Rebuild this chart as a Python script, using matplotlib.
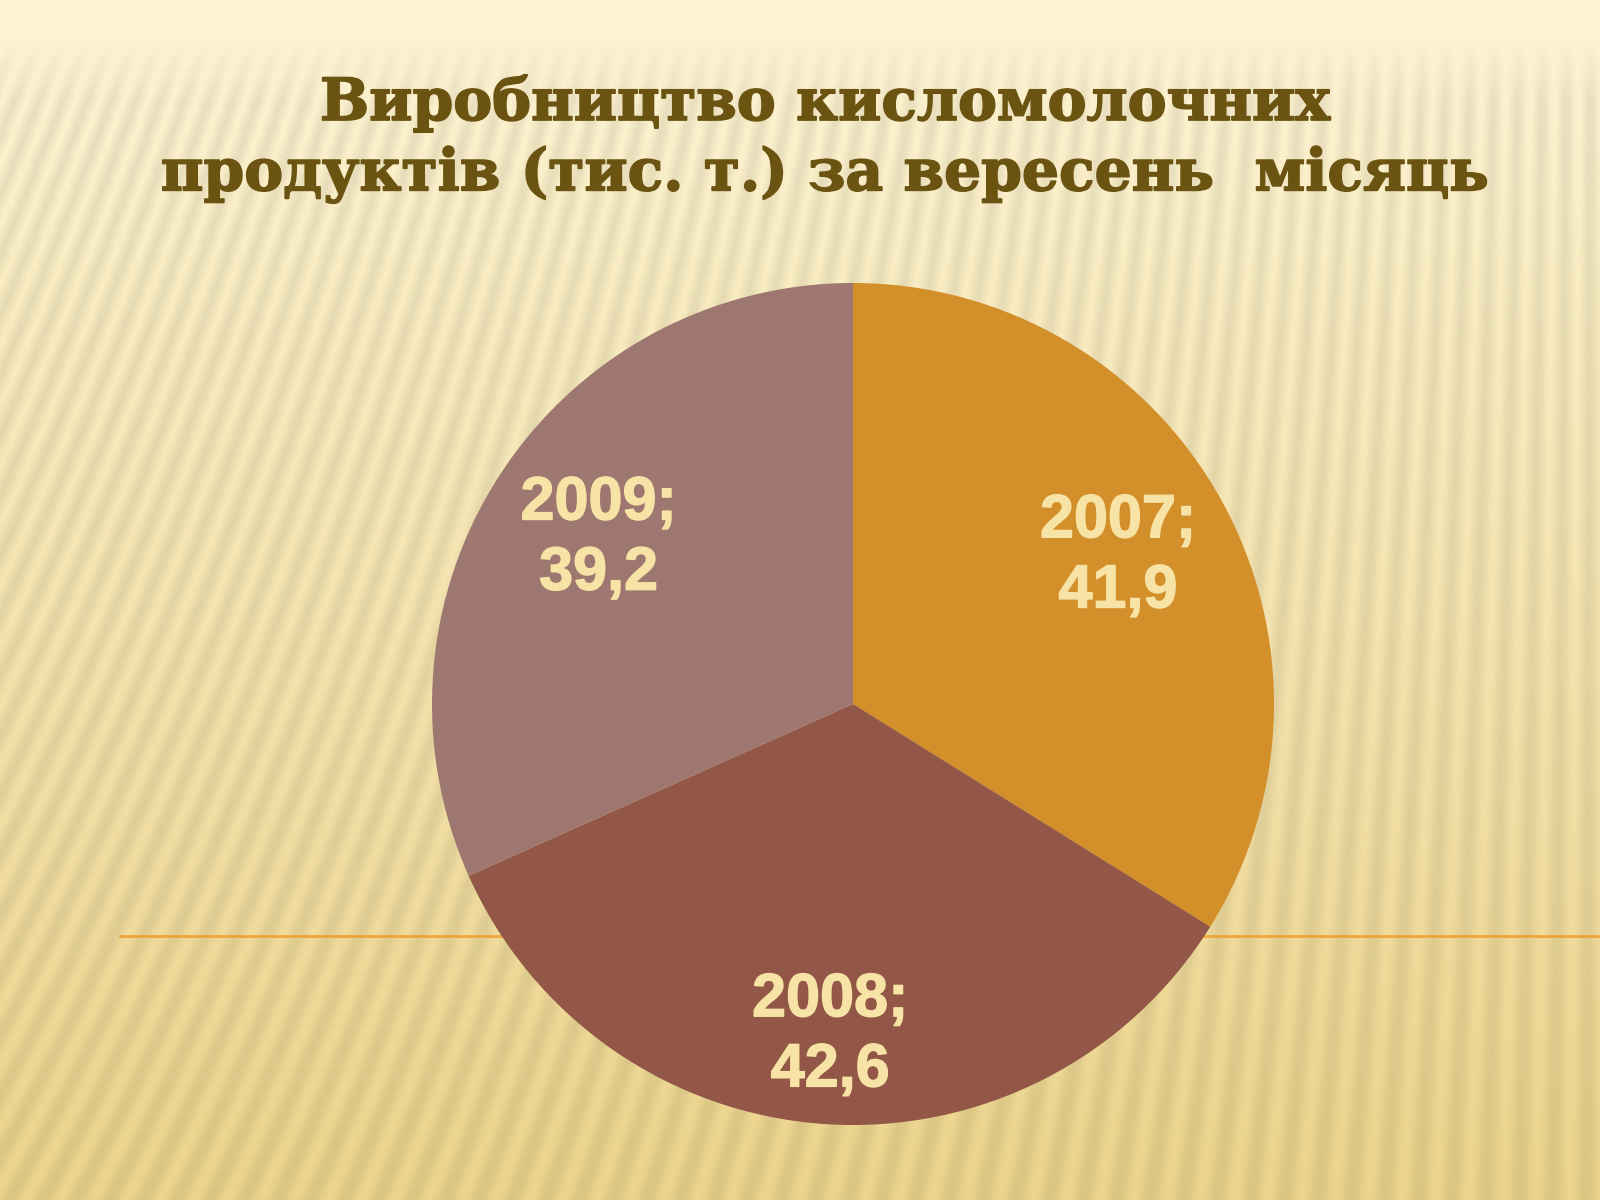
import numpy as np
import matplotlib.pyplot as plt
import matplotlib.patheffects as pe

years = ['2007', '2008', '2009']
values = [41.9, 42.6, 39.2]
colors = ['#d38f2a', '#925746', '#9e7870']
title = 'Виробництво кисломолочних\nпродуктів (тис. т.) за вересень  місяць'

fig = plt.figure(figsize=(16, 12), dpi=100)

# фон слайда: кремовий градієнт з тонкими похилими смугами
bg_ax = fig.add_axes([0, 0, 1, 1])
yy, xx = np.mgrid[0:1200, 0:1600].astype(float)
t = yy / 1199.0
top = np.array([253, 244, 212]) / 255
bottom = np.array([236, 212, 140]) / 255
base = top[None, None, :] * (1 - t[..., None]) + bottom[None, None, :] * t[..., None]
phase = (xx + (yy - 60) * 0.4 * (1 - xx / 1600)) / 24.0
stripe = 0.5 + 0.5 * np.sin(2 * np.pi * phase)
fade = np.clip((yy - 40) / 60.0, 0, 1)
shade = 1 - 0.07 * stripe * fade
img = np.clip(base * shade[..., None], 0, 1)
bg_ax.imshow(img, extent=[0, 1600, 1200, 0], aspect='auto')
bg_ax.set_xlim(0, 1600)
bg_ax.set_ylim(1200, 0)
bg_ax.axis('off')

# тонка помаранчева лінія
bg_ax.plot([120, 1600], [936, 936], color='#f0a030', lw=2, alpha=0.9)

fig.text(0.516, 0.884, title, ha='center', va='center', fontsize=42,
         fontweight='bold', family='DejaVu Serif', color='#6b5311',
         linespacing=1.32,
         path_effects=[pe.withStroke(linewidth=1.2, foreground='#6b5311')])

ax = fig.add_axes([432 / 1600, 75 / 1200, 842 / 1600, 842 / 1200])
labels = [f'{y};\n{v}'.replace('.', ',') for y, v in zip(years, values)]
wedges, texts = ax.pie(values, labels=labels, colors=colors, startangle=90,
                       counterclock=False, labeldistance=0.73, radius=1,
                       textprops=dict(ha='center', va='center', fontsize=44,
                                      fontweight='bold', color='#f7e3a5',
                                      family='Liberation Sans', linespacing=1.3))
# трохи різна відстань підписів від центру, як на слайді
dists = [0.72, 0.79, 0.72]
for w, txt, d in zip(wedges, texts, dists):
    ang = np.deg2rad((w.theta1 + w.theta2) / 2)
    txt.set_position((d * np.cos(ang), d * np.sin(ang)))
    txt.set_path_effects([pe.withStroke(linewidth=1, foreground='#f7e3a5')])
ax.set_xlim(-1, 1)
ax.set_ylim(-1, 1)
ax.set_aspect('equal')
ax.axis('off')

plt.savefig('out.png', dpi=100)
